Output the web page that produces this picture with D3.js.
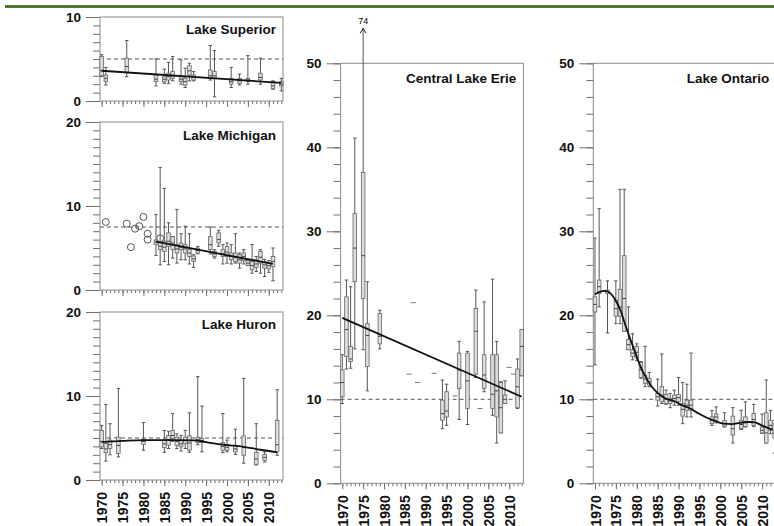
<!DOCTYPE html>
<html>
<head>
<meta charset="utf-8">
<script src="https://cdn.jsdelivr.net/npm/d3@7"></script>
<style>
body { margin: 0; background: #fff; }
svg { display: block; font-family: Arial, "Liberation Sans", Helvetica, sans-serif; }
</style>
</head>
<body>
<svg id="chart" width="774" height="526"></svg>
<script>
// box rows: [year, low whisker, q1, median, q3, high whisker]
const superiorBoxes = [
    [1970, 2.9, 3.0, 3.6, 5.3, 5.5], [1971, 1.9, 2.3, 2.7, 3.1, 4.0],
    [1976, 2.9, 3.4, 4.1, 5.1, 7.2], [1983, 1.8, 2.3, 2.6, 3.1, 5.0],
    [1985, 2.1, 2.3, 2.6, 2.9, 3.8], [1986, 2.1, 2.5, 2.9, 3.3, 4.6],
    [1987, 2.4, 2.7, 3.0, 3.5, 5.3], [1989, 2.0, 2.3, 2.6, 2.9, 4.9],
    [1990, 1.6, 1.9, 2.3, 2.7, 3.9], [1991, 2.4, 3.1, 3.6, 4.2, 4.5],
    [1992, 2.4, 2.5, 2.9, 3.1, 3.5], [1996, 2.5, 2.7, 3.0, 3.7, 6.6],
    [1997, 0.5, 2.7, 3.0, 3.5, 6.0], [2001, 1.6, 2.0, 2.3, 2.7, 4.0],
    [2003, 1.9, 2.1, 2.4, 2.7, 3.2], [2005, 2.0, 2.3, 2.5, 2.7, 5.4],
    [2008, 2.0, 2.5, 2.8, 3.3, 5.1], [2011, 1.4, 1.5, 1.8, 2.3, 2.4],
    [2013, 1.2, 1.8, 2.0, 2.3, 2.7]
];
const michiganBoxes = [
    [1983, 4.1, 5.4, 5.7, 5.95, 9.0], [1984, 3.0, 4.8, 5.2, 5.8, 14.6],
    [1985, 3.4, 4.6, 5.1, 5.8, 12.1], [1986, 3.0, 5.2, 5.8, 6.8, 8.0],
    [1987, 3.8, 4.8, 5.6, 6.35, 6.35], [1988, 3.2, 4.4, 4.9, 5.4, 9.6],
    [1989, 3.6, 4.8, 5.1, 5.6, 6.7], [1990, 3.6, 4.4, 4.9, 5.4, 7.6],
    [1991, 3.1, 4.0, 4.4, 4.8, 6.7], [1992, 2.7, 3.4, 3.7, 4.05, 4.2],
    [1993, 4.3, 4.4, 4.7, 5.0, 5.2], [1996, 4.3, 4.8, 5.4, 6.35, 7.5],
    [1997, 3.8, 4.0, 4.3, 4.6, 4.8], [1998, 5.2, 5.6, 6.0, 6.8, 7.1],
    [1999, 3.1, 4.0, 4.3, 4.8, 5.4], [2000, 3.2, 4.0, 4.5, 5.2, 5.6],
    [2001, 3.1, 3.6, 4.0, 4.4, 5.4], [2002, 3.2, 3.4, 3.9, 4.4, 6.7],
    [2003, 2.6, 3.2, 3.6, 4.2, 4.4], [2004, 3.1, 3.5, 4.0, 4.4, 4.8],
    [2005, 2.9, 2.9, 3.2, 3.5, 3.5], [2006, 2.0, 2.4, 2.9, 3.4, 5.4],
    [2007, 2.2, 2.7, 3.1, 3.6, 4.0], [2008, 2.0, 3.2, 3.9, 4.6, 4.8],
    [2009, 1.6, 2.6, 3.0, 3.4, 3.65], [2010, 2.1, 2.5, 2.9, 3.25, 3.5],
    [2011, 1.1, 2.8, 3.4, 4.0, 5.0]
];
const michiganPoints = [
    [1971, 8.1], [1976, 7.9], [1977, 5.1], [1978, 7.3], [1979, 7.6],
    [1980, 8.7], [1981, 6.7], [1981, 6.0], [1984, 6.15]
];
const huronBoxes = [
    [1970, 3.75, 3.95, 4.6, 5.9, 6.5], [1971, 2.25, 3.25, 3.7, 4.35, 9.0],
    [1972, 3.0, 3.75, 4.2, 4.75, 6.7], [1974, 2.75, 3.15, 4.1, 5.1, 10.9],
    [1980, 3.55, 4.25, 4.6, 4.85, 6.85], [1985, 3.3, 3.85, 4.3, 4.75, 5.9],
    [1986, 3.75, 4.15, 4.8, 5.3, 5.8], [1987, 4.6, 4.95, 5.3, 5.9, 7.9],
    [1988, 3.75, 4.1, 4.6, 5.1, 5.5], [1989, 3.45, 3.95, 4.3, 4.75, 5.3],
    [1990, 3.75, 4.35, 4.7, 5.1, 5.9], [1991, 3.3, 3.55, 4.4, 5.25, 8.0],
    [1993, 4.2, 4.45, 4.8, 5.1, 12.3], [1994, 3.35, 4.45, 4.7, 4.95, 8.8],
    [1999, 3.25, 3.55, 4.0, 4.45, 7.9], [2000, 3.35, 3.55, 3.9, 4.25, 4.75],
    [2002, 3.05, 3.35, 3.7, 4.15, 6.05], [2004, 2.0, 2.95, 3.9, 5.25, 12.1],
    [2007, 1.8, 1.85, 2.5, 3.3, 6.7], [2009, 2.15, 2.35, 2.7, 3.05, 3.35],
    [2012, 2.95, 3.35, 4.2, 7.1, 10.75]
];
const erieBoxes = [
    [1970, 9.5, 10.3, 12.0, 13.5, 15.3], [1971, 13.6, 15.1, 18.3, 22.2, 24.2],
    [1972, 13.7, 14.5, 14.8, 16.3, 23.4], [1973, 16.0, 24.0, 28.0, 32.1, 41.1],
    [1975, 15.9, 22.0, 27.1, 37.0, 74], [1976, 11.0, 13.9, 17.6, 19.0, 24.0],
    [1979, 16.0, 16.6, 17.5, 20.2, 20.6], [1994, 6.5, 7.5, 8.3, 9.9, 12.3],
    [1995, 6.9, 7.9, 8.6, 10.9, 11.8], [1998, 7.6, 11.3, 13.5, 15.5, 16.9],
    [2000, 7.0, 8.9, 12.2, 15.5, 15.7], [2002, 12.6, 13.0, 18.1, 20.8, 23.0],
    [2004, 10.9, 11.3, 12.9, 15.3, 21.6], [2006, 8.1, 8.9, 10.6, 15.3, 24.3],
    [2007, 4.8, 7.9, 11.0, 15.3, 16.9], [2008, 6.0, 6.0, 9.0, 12.0, 12.1],
    [2009, 9.5, 9.5, 10.0, 10.5, 12.2], [2012, 8.9, 9.0, 11.5, 13.6, 14.8],
    [2013, 12.8, 12.8, 16.3, 18.3, 18.3]
];
const erieSingles = [
    [1986, 13.0], [1987, 21.5], [1988, 12.0], [1992, 13.1],
    [1997, 10.4], [2003, 8.9], [2010, 13.8], [2011, 13.0]
];
const ontarioBoxes = [
    [1970, 14.1, 20.4, 21.3, 22.2, 29.2], [1971, 21.0, 22.6, 23.4, 24.2, 32.7],
    [1973, 17.9, 22.6, 22.8, 23.0, 24.1], [1975, 19.0, 19.9, 20.8, 21.8, 24.1],
    [1976, 19.0, 19.9, 21.0, 23.1, 35.0], [1977, 18.1, 18.1, 22.0, 27.1, 35.0],
    [1978, 15.9, 15.9, 16.5, 17.1, 21.0], [1979, 14.7, 15.1, 15.5, 15.9, 17.8],
    [1980, 14.6, 14.9, 15.6, 16.3, 16.6], [1981, 12.5, 12.6, 13.5, 14.4, 14.5],
    [1982, 11.5, 11.9, 12.4, 12.9, 16.3], [1983, 11.5, 11.7, 12.1, 12.5, 13.2],
    [1985, 9.2, 9.9, 10.3, 10.7, 12.4], [1986, 9.5, 9.7, 10.5, 11.5, 15.4],
    [1987, 9.4, 9.5, 10.0, 10.6, 11.1], [1988, 9.0, 9.5, 9.8, 10.1, 10.7],
    [1989, 9.3, 9.7, 10.1, 10.5, 11.1], [1990, 9.3, 9.7, 10.2, 10.6, 12.6],
    [1991, 7.1, 8.0, 8.8, 9.5, 12.0], [1992, 7.9, 8.7, 9.3, 9.9, 11.8],
    [1993, 7.9, 8.7, 9.3, 9.9, 15.5], [1998, 6.9, 7.1, 7.5, 7.9, 8.65],
    [1999, 7.2, 7.5, 7.9, 8.25, 9.1], [2001, 6.7, 6.8, 7.1, 7.5, 8.4],
    [2003, 4.8, 5.75, 6.5, 8.0, 9.0], [2005, 6.4, 6.5, 7.0, 7.5, 8.7],
    [2006, 6.7, 6.75, 7.3, 7.9, 9.7], [2008, 6.75, 6.9, 7.6, 8.3, 9.4],
    [2010, 5.95, 6.0, 6.3, 6.7, 8.25], [2011, 4.8, 4.8, 6.0, 8.4, 12.3],
    [2012, 5.9, 6.3, 6.9, 7.5, 8.65], [2013, 3.6, 5.4, 6.0, 7.1, 7.5]
];

// fitted trends: [year, value]
const superiorTrend = [[1970, 3.6], [2013, 2.15]];
const michiganTrend = [[1983, 5.75], [2011, 3.1]];
const huronTrend = [[1970, 4.5], [1975, 4.65], [1980, 4.75], [1987, 4.75], [1992, 4.72],
    [1995, 4.5], [1999, 4.2], [2004, 3.95], [2008, 3.6], [2012, 3.3]];
const erieTrend = [[1970, 19.7], [2013, 10.3]];
const ontarioTrend = [[1970, 22.5], [1971.1, 22.8], [1972.5, 22.9], [1973.7, 22.6], [1974.9, 21.8],
    [1976.1, 20.6], [1977.3, 18.8], [1978.5, 17.1], [1979.7, 15.5], [1980.9, 13.9],
    [1982.1, 12.7], [1983.3, 11.7], [1984.9, 10.8], [1986.9, 10.1], [1988.9, 9.8],
    [1990.8, 9.3], [1992.8, 8.9], [1994.8, 8.3], [1996.8, 7.8], [1998.8, 7.4],
    [2000.8, 7.1], [2002.8, 7.05], [2004.7, 7.2], [2006.8, 7.3], [2008.3, 7.25],
    [2010.3, 6.8], [2012.5, 6.4]];

const lakeNames = ['Lake Superior', 'Lake Michigan', 'Lake Huron', 'Central Lake Erie', 'Lake Ontario'];
const targetLevels = [5, 7.5, 5, 10, 10];
const yMaxima = [10, 20, 20, 50, 50];
const yearTicks = d3.range(1970, 2011, 5);

const svg = d3.select('#chart');

svg.append('rect')
    .attr('x', 5).attr('y', 5)
    .attr('width', 769).attr('height', 3)
    .attr('fill', '#4e7b2b');

const layout = [
    { left: 100, right: 283, top: 17, bottom: 101, minor: 1, years: false, titleDy: 17 },
    { left: 100, right: 283, top: 122, bottom: 290, minor: 1, years: false, titleDy: 18 },
    { left: 100, right: 283, top: 312, bottom: 480, minor: 1, years: true, titleDy: 17 },
    { left: 340.6, right: 523.4, top: 63.3, bottom: 483.3, minor: 2, years: true, titleDy: 20 },
    { left: 593.3, right: 776.3, top: 63.3, bottom: 483.3, minor: 2, years: true, titleDy: 20 }
];
const series = [
    { boxes: superiorBoxes, trend: superiorTrend, curve: d3.curveLinear },
    { boxes: michiganBoxes, trend: michiganTrend, curve: d3.curveLinear, points: michiganPoints },
    { boxes: huronBoxes, trend: huronTrend, curve: d3.curveMonotoneX },
    { boxes: erieBoxes, trend: erieTrend, curve: d3.curveLinear, singles: erieSingles },
    { boxes: ontarioBoxes, trend: ontarioTrend, curve: d3.curveMonotoneX }
];

layout.forEach((p, i) => drawPanel(p, series[i], lakeNames[i], targetLevels[i], yMaxima[i]));

function drawPanel(p, s, name, target, yMax) {
    const x = d3.scaleLinear().domain([1969.6, 2013.4]).range([p.left, p.right]);
    const y = d3.scaleLinear().domain([0, yMax]).range([p.bottom, p.top]);
    const g = svg.append('g');

    // y axis: minor + major ticks
    const yMinor = g.append('g')
        .attr('transform', `translate(${p.left},0)`)
        .call(d3.axisLeft(y).tickValues(d3.range(0, yMax + 0.01, p.minor)).tickSize(7).tickFormat(''));
    const yMajor = g.append('g')
        .attr('transform', `translate(${p.left},0)`)
        .call(d3.axisLeft(y).tickValues(d3.range(0, yMax + 0.01, 10)).tickSize(14).tickPadding(5).tickFormat(d3.format('d')));
    yMajor.selectAll('text')
        .style('font-size', '13.5px')
        .style('font-weight', 'bold')
        .attr('fill', '#111');

    // x axis
    const xMinor = g.append('g')
        .attr('transform', `translate(0,${p.bottom})`)
        .call(d3.axisBottom(x).tickValues(d3.range(1970, 2014)).tickSize(3).tickFormat(''));
    const xMajor = g.append('g')
        .attr('transform', `translate(0,${p.bottom})`)
        .call(d3.axisBottom(x).tickValues(yearTicks).tickSize(6).tickFormat(p.years ? d3.format('d') : ''));
    xMajor.selectAll('text')
        .attr('transform', 'rotate(-90)')
        .attr('text-anchor', 'end')
        .attr('x', -12)
        .attr('y', 0)
        .attr('dy', '0.36em')
        .style('font-size', '14px')
        .style('font-weight', 'bold')
        .attr('fill', '#111');

    [yMinor, yMajor, xMinor, xMajor].forEach(a => {
        a.select('.domain').remove();
        a.selectAll('line').attr('stroke', '#6e6e6e');
    });

    // frame
    g.append('rect')
        .attr('x', p.left).attr('y', p.top)
        .attr('width', p.right - p.left).attr('height', p.bottom - p.top)
        .attr('fill', 'none')
        .attr('stroke', '#8c8c8c');

    // target level
    g.append('line')
        .attr('x1', p.left).attr('x2', p.right)
        .attr('y1', y(target)).attr('y2', y(target))
        .attr('stroke', '#555')
        .attr('stroke-dasharray', '4,3');

    // open circles
    if (s.points) {
        g.selectAll('circle.pt')
            .data(s.points)
            .join('circle')
            .attr('cx', d => x(d[0]))
            .attr('cy', d => y(d[1]))
            .attr('r', 3.5)
            .attr('fill', 'none')
            .attr('stroke', '#555');
    }

    // single observations
    if (s.singles) {
        g.selectAll('line.single')
            .data(s.singles)
            .join('line')
            .attr('x1', d => x(d[0]) - 2.5).attr('x2', d => x(d[0]) + 2.5)
            .attr('y1', d => y(d[1])).attr('y2', d => y(d[1]))
            .attr('stroke', '#777');
    }

    // box plots
    const top = y(yMax) - 35;
    const hiY = v => v > yMax ? top : y(v);
    const bx = g.selectAll('g.box')
        .data(s.boxes)
        .join('g')
        .attr('transform', d => `translate(${x(d[0])},0)`);
    bx.append('line')
        .attr('y1', d => y(d[1])).attr('y2', d => hiY(d[5]))
        .attr('stroke', '#555');
    bx.append('line')
        .attr('x1', -1.7).attr('x2', 1.7)
        .attr('y1', d => y(d[1])).attr('y2', d => y(d[1]))
        .attr('stroke', '#555');
    bx.filter(d => d[5] <= yMax).append('line')
        .attr('x1', -1.7).attr('x2', 1.7)
        .attr('y1', d => y(d[5])).attr('y2', d => y(d[5]))
        .attr('stroke', '#555');
    bx.append('rect')
        .attr('x', -1.8).attr('width', 3.6)
        .attr('y', d => y(d[4]))
        .attr('height', d => Math.max(0.5, y(d[2]) - y(d[4])))
        .attr('fill', '#dcdcdc')
        .attr('stroke', '#666')
        .attr('stroke-width', 0.8);
    bx.append('line')
        .attr('x1', -1.8).attr('x2', 1.8)
        .attr('y1', d => y(d[3])).attr('y2', d => y(d[3]))
        .attr('stroke', '#444');

    // off-scale whisker: arrow and value
    const off = bx.filter(d => d[5] > yMax);
    off.append('path')
        .attr('d', `M-3,${top + 5}L0,${top}L3,${top + 5}`)
        .attr('fill', 'none')
        .attr('stroke', '#222');
    off.append('text')
        .attr('y', top - 4)
        .attr('text-anchor', 'middle')
        .style('font-size', '9px')
        .attr('fill', '#000')
        .text(d => d[5]);

    // trend line
    g.append('path')
        .datum(s.trend)
        .attr('d', d3.line().x(d => x(d[0])).y(d => y(d[1])).curve(s.curve))
        .attr('fill', 'none')
        .attr('stroke', '#111')
        .attr('stroke-width', 1.8);

    // title
    g.append('text')
        .attr('x', p.right - 7)
        .attr('y', p.top + p.titleDy)
        .attr('text-anchor', 'end')
        .style('font-size', '13.5px')
        .style('font-weight', 'bold')
        .attr('fill', '#111')
        .text(name);
}
</script>
</body>
</html>
